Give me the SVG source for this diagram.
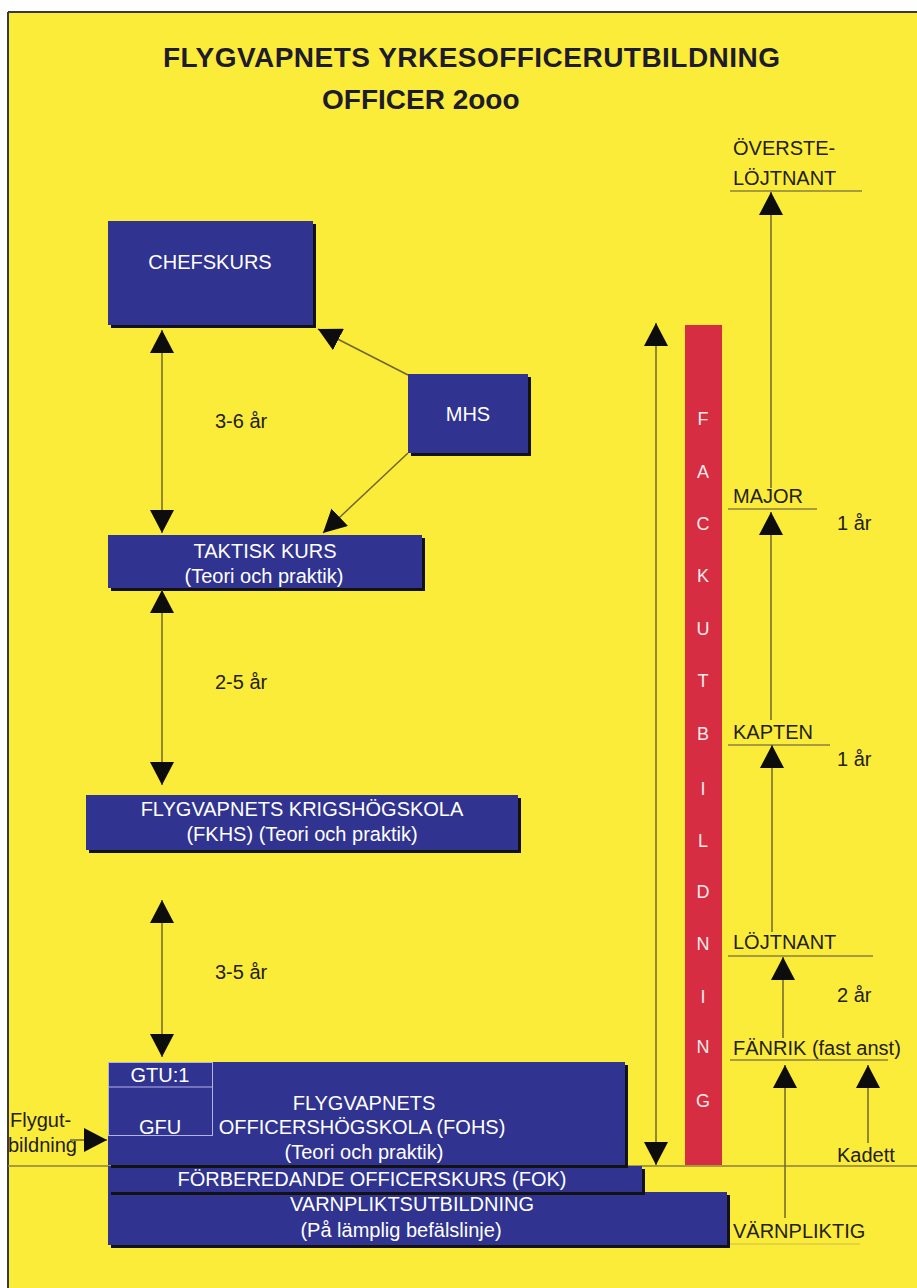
<svg xmlns="http://www.w3.org/2000/svg" width="917" height="1288" viewBox="0 0 917 1288">
<defs>
<marker id="ah" markerUnits="userSpaceOnUse" markerWidth="24" markerHeight="24" refX="23" refY="12" orient="auto-start-reverse" viewBox="0 0 24 24"><path d="M0,0 L23,12 L0,24 z" fill="#0d0d0d"/></marker>
</defs>
<style>
.box{fill:#30338f}
.sh{fill:#121212}
.nt{font-family:"Liberation Sans",Arial,sans-serif;font-size:20px;fill:#ffffff;text-anchor:middle}
.lb{font-family:"Liberation Sans",Arial,sans-serif;font-size:20px;fill:#22211a}
.cn{stroke:#6f6630;stroke-width:1.5;fill:none}
.ul{stroke:#8a8040;stroke-width:1.5}
.fl{font-family:"Liberation Sans",Arial,sans-serif;font-size:18px;fill:#f6eaea;text-anchor:middle}
.ti{font-family:"Liberation Sans",Arial,sans-serif;font-weight:bold;fill:#1d1b2e}
</style>
<rect x="0" y="0" width="917" height="1288" fill="#ffffff"/>
<rect x="8" y="12" width="909" height="1276" fill="#fcec3a"/>
<line x1="8" y1="12" x2="917" y2="12" stroke="#3a3a3a" stroke-width="2"/>
<line x1="8" y1="12" x2="8" y2="1288" stroke="#3a3a3a" stroke-width="2"/>
<line x1="8" y1="1166" x2="917" y2="1166" class="ul"/>

<g id="title">
<text class="ti" x="163" y="67" font-size="28" textLength="617">FLYGVAPNETS YRKESOFFICERUTBILDNING</text>
<text class="ti" x="322" y="109" font-size="28">OFFICER 2ooo</text>
</g>

<g id="chefskurs">
<rect class="sh" x="111" y="224" width="205" height="104"/>
<rect class="box" x="108" y="221" width="205" height="104"/>
<text class="nt" x="210" y="269">CHEFSKURS</text>
</g>

<g id="mhs">
<rect class="sh" x="411" y="377" width="120" height="79"/>
<rect class="box" x="408" y="374" width="120" height="79"/>
<text class="nt" x="468" y="421">MHS</text>
</g>

<g id="taktisk">
<rect class="sh" x="111" y="538" width="314" height="53"/>
<rect class="box" x="108" y="535" width="314" height="53"/>
<text class="nt" x="265" y="558">TAKTISK KURS</text>
<text class="nt" x="264" y="583">(Teori och praktik)</text>
</g>

<g id="fkhs">
<rect class="sh" x="89" y="798" width="432" height="55"/>
<rect class="box" x="86" y="795" width="432" height="55"/>
<text class="nt" x="302" y="816">FLYGVAPNETS KRIGSHÖGSKOLA</text>
<text class="nt" x="302" y="841">(FKHS) (Teori och praktik)</text>
</g>

<g id="varnplikt">
<rect class="sh" x="111" y="1195" width="619" height="53"/>
<rect class="box" x="108" y="1192" width="619" height="53"/>
<text class="nt" x="412" y="1211">VARNPLIKTSUTBILDNING</text>
<text class="nt" x="401" y="1237">(På lämplig befälslinje)</text>
</g>

<g id="fok">
<rect class="sh" x="111" y="1169" width="534" height="26"/>
<rect class="box" x="108" y="1166" width="534" height="26"/>
<text class="nt" x="372" y="1186">FÖRBEREDANDE OFFICERSKURS (FOK)</text>
</g>

<g id="fohs">
<rect class="sh" x="111" y="1065" width="517" height="103"/>
<rect class="box" x="108" y="1062" width="517" height="103"/>
<rect x="108.5" y="1062.5" width="104" height="73" fill="none" stroke="#b4b4e2" stroke-width="1"/>
<line x1="108" y1="1087" x2="212" y2="1087" stroke="#b4b4e2" stroke-width="1"/>
<text class="nt" x="160" y="1082">GTU:1</text>
<text class="nt" x="160" y="1134">GFU</text>
<text class="nt" x="364" y="1110">FLYGVAPNETS</text>
<text class="nt" x="362" y="1134">OFFICERSHÖGSKOLA (FOHS)</text>
<text class="nt" x="364" y="1159">(Teori och praktik)</text>
</g>

<g id="fackutbildning">
<rect x="685" y="325" width="37" height="840" fill="#d62d42"/>
<text class="fl" x="703" y="425">F</text>
<text class="fl" x="703" y="478">A</text>
<text class="fl" x="703" y="530">C</text>
<text class="fl" x="703" y="582">K</text>
<text class="fl" x="703" y="635">U</text>
<text class="fl" x="703" y="687">T</text>
<text class="fl" x="703" y="740">B</text>
<text class="fl" x="703" y="795">I</text>
<text class="fl" x="703" y="847">L</text>
<text class="fl" x="703" y="898">D</text>
<text class="fl" x="703" y="950">N</text>
<text class="fl" x="703" y="1003">I</text>
<text class="fl" x="703" y="1053">N</text>
<text class="fl" x="703" y="1107">G</text>
</g>

<g id="ranks">
<text class="lb" x="733" y="155">ÖVERSTE-</text>
<text class="lb" x="733" y="185">LÖJTNANT</text>
<line class="ul" x1="730" y1="191" x2="862" y2="191"/>
<text class="lb" x="733" y="503">MAJOR</text>
<line class="ul" x1="728" y1="509" x2="817" y2="509"/>
<text class="lb" x="733" y="739">KAPTEN</text>
<line class="ul" x1="728" y1="745" x2="830" y2="745"/>
<text class="lb" x="733" y="949">LÖJTNANT</text>
<line class="ul" x1="728" y1="956" x2="873" y2="956"/>
<text class="lb" x="733" y="1055">FÄNRIK (fast anst)</text>
<line class="ul" x1="730" y1="1060" x2="888" y2="1060"/>
<text class="lb" x="837" y="1162">Kadett</text>
<text class="lb" x="733" y="1238">VÄRNPLIKTIG</text>
<line x1="730" y1="1244" x2="860" y2="1244" stroke="#c8bc50" stroke-width="1"/>
</g>

<g id="labels">
<text class="lb" x="215" y="428">3-6 år</text>
<text class="lb" x="215" y="689">2-5 år</text>
<text class="lb" x="215" y="979">3-5 år</text>
<text class="lb" x="837" y="530">1 år</text>
<text class="lb" x="837" y="766">1 år</text>
<text class="lb" x="837" y="1002">2 år</text>
<text class="lb" x="10" y="1127">Flygut-</text>
<text class="lb" x="8" y="1152">bildning</text>
</g>

<g id="connectors">
<line class="cn" x1="162" y1="330" x2="162" y2="533" marker-start="url(#ah)" marker-end="url(#ah)"/>
<line class="cn" x1="162" y1="590" x2="162" y2="785" marker-start="url(#ah)" marker-end="url(#ah)"/>
<line class="cn" x1="162" y1="900" x2="162" y2="1057" marker-start="url(#ah)" marker-end="url(#ah)"/>
<line class="cn" x1="408" y1="375" x2="318" y2="329" marker-end="url(#ah)"/>
<line class="cn" x1="408" y1="453" x2="323" y2="533" marker-end="url(#ah)"/>
<line class="cn" x1="656" y1="323" x2="656" y2="1165" marker-start="url(#ah)" marker-end="url(#ah)"/>
<line class="cn" x1="70" y1="1140" x2="107" y2="1140" marker-end="url(#ah)"/>
<line class="cn" x1="771" y1="488" x2="771" y2="192" marker-end="url(#ah)"/>
<line class="cn" x1="771" y1="720" x2="771" y2="512" marker-end="url(#ah)"/>
<line class="cn" x1="772" y1="932" x2="772" y2="745" marker-end="url(#ah)"/>
<line class="cn" x1="783" y1="1038" x2="783" y2="957" marker-end="url(#ah)"/>
<line class="cn" x1="785" y1="1218" x2="785" y2="1065" marker-end="url(#ah)"/>
<line class="cn" x1="868" y1="1143" x2="868" y2="1065" marker-end="url(#ah)"/>
</g>
</svg>
